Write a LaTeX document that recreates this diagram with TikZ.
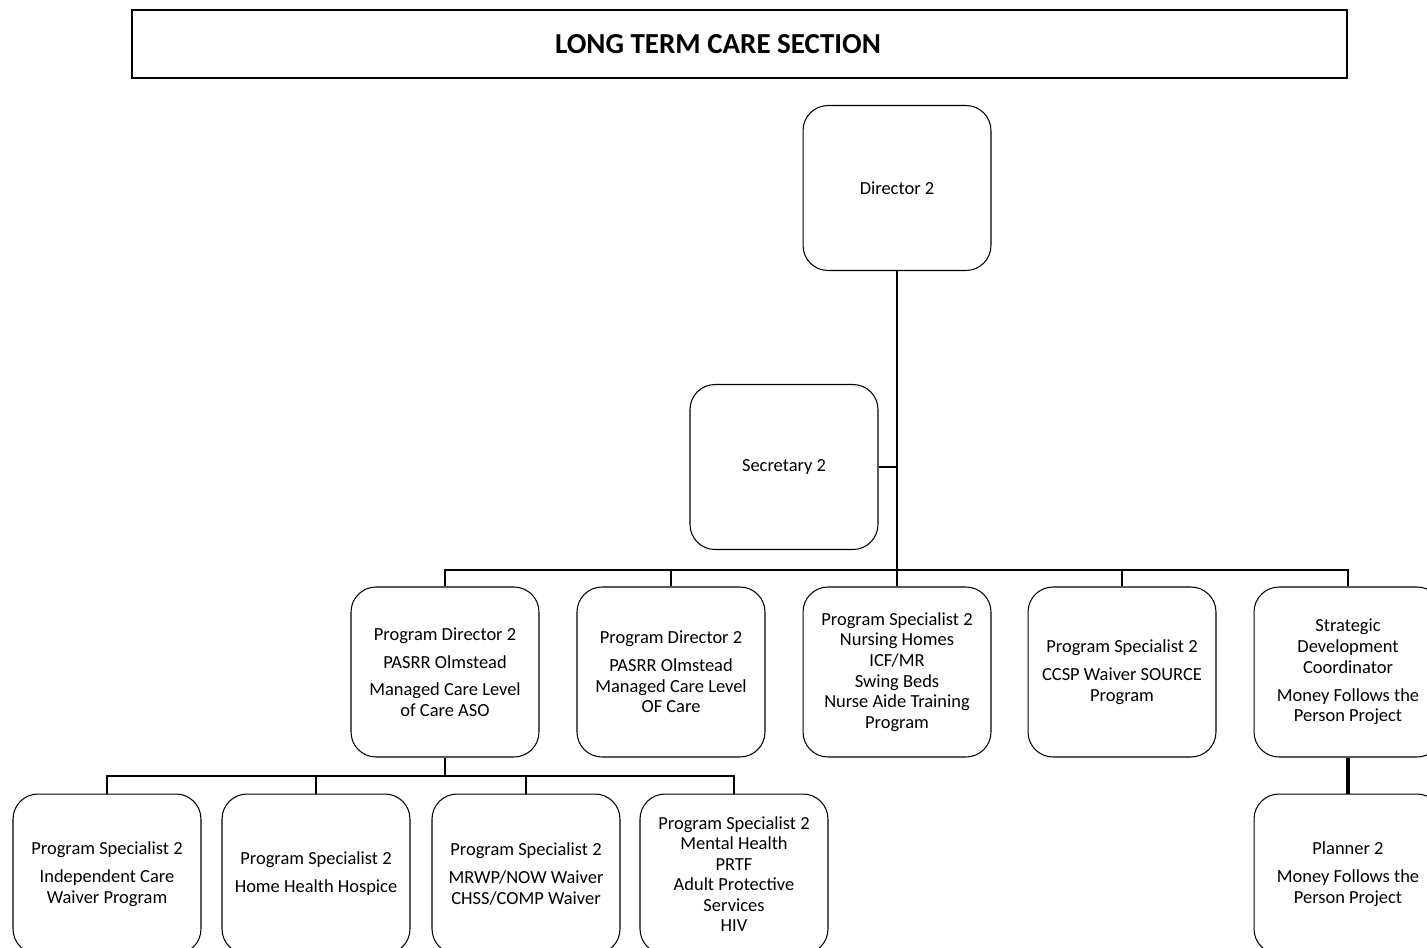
\documentclass[tikz,border=0pt]{standalone}
\usepackage{fontspec}
\setmainfont{Carlito}
\tikzset{
  box/.style={draw, rounded corners=0.5cm, minimum width=3.76cm, minimum height=3.3cm,
    align=center, font=\fontsize{10.5}{11.7}\selectfont, line width=0.6pt},
  link/.style={line width=1.6pt},
}
\newcommand{\pgap}{\\[4.2pt]}
\begin{document}
\begin{tikzpicture}[x=0.02cm,y=-0.02cm]
  \useasboundingbox (0,0) rectangle (1427,947);
  \draw[line width=0.7pt] (132,10) rectangle (1347,78);
  \draw
    (718,44) node[font=\bfseries\fontsize{16.5}{20}\selectfont] (title){LONG TERM CARE SECTION}
    (897,188) node[box] (dir){Director 2}
    (784,467) node[box] (sec){Secretary 2}
    (445,672) node[box, minimum height=3.4cm] (pd1){Program Director 2\pgap PASRR Olmstead\pgap Managed Care Level\\of Care ASO}
    (671,672) node[box, minimum height=3.4cm] (pd2){Program Director 2\pgap PASRR Olmstead\\Managed Care Level\\OF Care}
    (897,672) node[box, minimum height=3.4cm] (psn){Program Specialist 2\\Nursing Homes\\ICF/MR\\Swing Beds\\Nurse Aide Training\\Program}
    (1122,672) node[box, minimum height=3.4cm] (ccsp){Program Specialist 2\pgap CCSP Waiver SOURCE\\Program}
    (1348,672) node[box, minimum height=3.4cm] (sdc){Strategic\\Development\\Coordinator\pgap Money Follows the\\Person Project}
    (107,874) node[box, minimum height=3.2cm] (ps1){Program Specialist 2\pgap Independent Care\\Waiver Program}
    (316,874) node[box, minimum height=3.2cm] (ps2){Program Specialist 2\pgap Home Health Hospice}
    (526,874) node[box, minimum height=3.2cm] (ps3){Program Specialist 2\pgap MRWP/NOW Waiver\\CHSS/COMP Waiver}
    (734,874) node[box, minimum height=3.2cm] (ps4){Program Specialist 2\\Mental Health\\PRTF\\Adult Protective\\Services\\HIV}
    (1348,874) node[box, minimum height=3.2cm] (plan){Planner 2\pgap Money Follows the\\Person Project};
  \coordinate (top) at (897,570);
  \coordinate (sub) at (445,776);
  \begin{scope}[link]
    \draw (dir) -- (top);
    \draw[line width=0.9pt] (sec.east) -- (sec.east -| dir.south);
    \draw (pd1.north) |- (top);
    \draw (pd2.north) |- (top);
    \draw (psn.north) -- (top);
    \draw (ccsp.north) |- (top);
    \draw (sdc.north) |- (top);
    \draw (pd1) -- (sub);
    \draw (ps1.north) |- (sub);
    \draw (ps2.north) |- (sub);
    \draw (ps3.north) |- (sub);
    \draw (ps4.north) |- (sub);
    \draw[line width=2.8pt] (sdc) -- (plan);
  \end{scope}
\end{tikzpicture}
\end{document}
